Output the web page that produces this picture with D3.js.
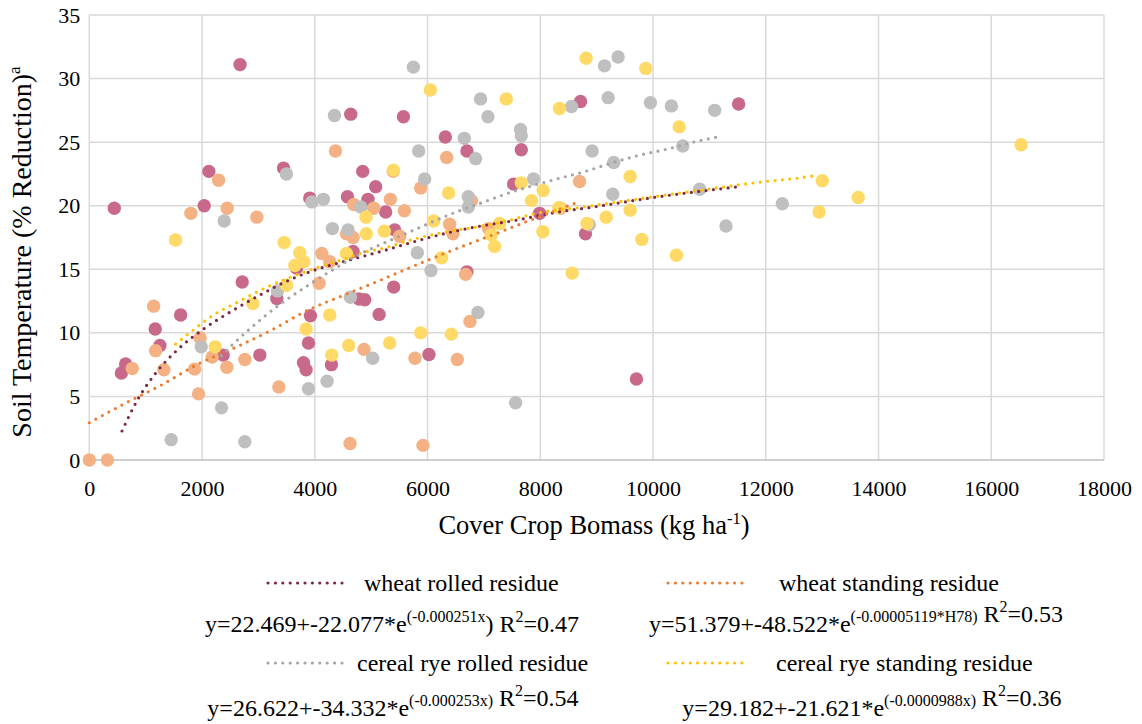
<!DOCTYPE html>
<html>
<head>
<meta charset="utf-8">
<script src="https://cdn.jsdelivr.net/npm/d3@7/dist/d3.min.js"></script>
<style>
  html, body { margin: 0; padding: 0; background: #fff; }
  svg { display: block; }
  text { font-family: "Liberation Serif", "Times New Roman", serif; fill: #000; }
</style>
</head>
<body>
<svg id="chart" width="1142" height="724"></svg>
<script>
// ---- data: cover crop biomass (kg/ha) vs soil temperature reduction (%) ----
const seriesNames = ["wheat rolled residue", "wheat standing residue", "cereal rye rolled residue", "cereal rye standing residue"];

const wheatRolledX = [443, 569, 645, 1170, 1253, 1620, 2038, 2121, 2375, 2674, 2712, 3025, 3326, 3445, 3675, 3799, 3846, 3888, 3911, 3923, 4295, 4579, 4638, 4680, 4785, 4850, 4886, 4944, 5080, 5141, 5258, 5400, 5417, 5572, 6025, 6316, 6699, 6699, 7526, 7663, 7987, 8714, 8802, 9706, 11519];
const wheatRolledY = [19.8, 6.84, 7.55, 10.3, 9.0, 11.4, 20.0, 22.7, 8.25, 31.1, 14.0, 8.25, 12.7, 22.96, 15.1, 7.65, 7.1, 9.2, 20.6, 11.35, 7.5, 20.7, 27.2, 16.4, 12.66, 22.7, 12.6, 20.5, 21.5, 11.45, 19.5, 13.6, 18.1, 27.0, 8.3, 25.4, 24.3, 14.8, 21.7, 24.4, 19.4, 28.2, 17.8, 6.37, 28.0];

const wheatStandingX = [0, 322, 762, 1141, 1176, 1324, 1802, 1868, 1938, 1967, 2180, 2293, 2440, 2446, 2759, 2972, 3362, 4076, 4124, 4266, 4367, 4562, 4625, 4680, 4691, 4873, 5045, 5341, 5390, 5506, 5589, 5777, 5878, 5919, 6339, 6392, 6450, 6528, 6676, 6752, 6782, 7083, 8359, 8696];
const wheatStandingY = [0, 0, 7.2, 12.1, 8.6, 7.1, 19.4, 7.15, 5.2, 9.6, 8.1, 22.0, 7.3, 19.8, 7.9, 19.1, 5.74, 13.9, 16.25, 15.6, 24.3, 17.8, 1.3, 17.5, 20.1, 8.7, 19.8, 20.5, 22.7, 17.6, 19.6, 8.0, 21.4, 1.15, 23.8, 18.55, 17.8, 7.9, 14.6, 10.9, 20.4, 18.2, 19.8, 21.9];

const ryeRolledX = [1453, 1985, 2346, 2393, 2759, 3338, 3497, 3888, 3947, 4153, 4218, 4313, 4349, 4590, 4632, 4815, 5027, 5749, 5819, 5843, 5949, 6061, 6652, 6723, 6723, 6853, 6894, 6941, 7071, 7562, 7650, 7663, 7880, 8554, 8870, 8920, 9139, 9204, 9286, 9303, 9381, 9954, 10326, 10527, 10828, 11094, 11295, 12293];
const ryeRolledY = [1.6, 8.9, 4.1, 18.8, 1.44, 13.3, 22.5, 5.6, 20.3, 20.5, 6.2, 18.2, 27.1, 18.1, 12.8, 19.9, 8.0, 30.9, 16.3, 24.3, 22.1, 14.9, 25.3, 20.7, 19.9, 23.7, 11.6, 28.4, 27.0, 4.5, 26.0, 25.5, 22.1, 27.8, 18.5, 24.3, 31.0, 28.5, 20.9, 23.4, 31.7, 28.1, 27.85, 24.7, 21.3, 27.5, 18.4, 20.15];

const ryeStandingX = [1531, 2233, 2901, 3456, 3498, 3645, 3734, 3805, 3846, 4266, 4301, 4561, 4602, 4909, 4915, 5235, 5329, 5394, 5878, 6050, 6108, 6250, 6374, 6422, 7131, 7190, 7278, 7397, 7663, 7845, 8046, 8052, 8330, 8341, 8566, 8814, 8830, 9169, 9594, 9594, 9800, 9871, 10414, 10463, 12944, 13003, 13640, 16529];
const ryeStandingY = [17.3, 8.9, 12.3, 17.1, 13.75, 15.3, 16.3, 15.6, 10.3, 11.4, 8.25, 16.25, 9.0, 19.1, 17.8, 18.0, 9.2, 22.8, 10.0, 29.1, 18.8, 15.9, 21.0, 9.9, 17.7, 16.8, 18.6, 28.4, 21.8, 20.4, 17.95, 21.2, 19.85, 27.65, 14.7, 31.6, 18.6, 19.1, 22.3, 19.65, 17.35, 30.8, 16.1, 26.2, 19.5, 21.96, 20.65, 24.8];

// fitted trend curves, sampled along x
const wheatRolledFitX = [580, 840, 1164, 1559, 2020, 2506, 3025, 3544, 4088, 4501, 5210, 6038, 6865, 7485, 8341, 8772, 10172, 11501];
const wheatRolledFitY = [2.28, 4.61, 6.76, 8.65, 10.28, 11.66, 12.97, 14.15, 15.07, 15.59, 16.45, 17.51, 18.34, 18.79, 19.52, 19.79, 20.75, 21.49];

const wheatStandingFitX = [0, 638, 1288, 1932, 2582, 3232, 3881, 4561, 5081, 5447, 6038, 6569, 7101, 7780, 8607];
const wheatStandingFitY = [2.93, 4.46, 5.92, 7.55, 8.83, 10.22, 11.79, 13.05, 13.99, 14.68, 15.78, 16.72, 17.61, 18.79, 20.18];

const ryeRolledFitX = [2346, 2552, 2878, 3101, 3338, 3574, 3817, 4058, 4313, 4797, 5081, 5890, 6410, 6959, 7367, 8212, 8754, 9316, 9888, 10172, 10734, 11165];
const ryeRolledFitY = [8.2, 9.12, 10.43, 11.27, 12.1, 12.84, 13.55, 14.25, 14.94, 16.2, 16.77, 18.34, 19.34, 20.23, 20.89, 22.01, 22.64, 23.43, 24.11, 24.37, 25.02, 25.42];

const ryeStandingFitX = [1531, 1873, 2228, 2612, 2995, 3410, 4088, 4502, 4916, 5210, 5742, 6334, 6893, 7337, 7928, 8772, 10202, 10764, 11354, 11944, 12536, 12820];
const ryeStandingFitY = [9.12, 10.32, 11.48, 12.37, 13.26, 14.1, 15.2, 15.78, 16.38, 16.64, 17.35, 17.95, 18.34, 18.74, 19.39, 19.91, 20.83, 21.17, 21.54, 21.88, 22.15, 22.33];

const xTicks = [0, 2000, 4000, 6000, 8000, 10000, 12000, 14000, 16000, 18000];
const yTicks = [0, 5, 10, 15, 20, 25, 30, 35];

// ---- layout ----
const svg = d3.select("#chart");
const plot = { left: 89.3, right: 1104, top: 15, bottom: 460 };

const x = d3.scaleLinear().domain([0, 18000]).range([plot.left, plot.right]);
const y = d3.scaleLinear().domain([0, 35]).range([plot.bottom, plot.top]);

const pointColors = ["#C8698C", "#F4B183", "#BFBFBF", "#FFD966"];
const lineColors = ["#7B2947", "#ED7D31", "#A5A5A5", "#FFC000"];
const serif = "Liberation Serif";

// gridlines
const grid = svg.append("g");
grid.selectAll("line.v").data(xTicks).join("line")
  .attr("x1", d => x(d)).attr("x2", d => x(d))
  .attr("y1", plot.top).attr("y2", plot.bottom)
  .attr("stroke", "#D9D9D9").attr("stroke-width", 1.5);
grid.selectAll("line.h").data(yTicks).join("line")
  .attr("x1", plot.left).attr("x2", plot.right)
  .attr("y1", d => y(d)).attr("y2", d => y(d))
  .attr("stroke", d => d === 0 ? "#BFBFBF" : "#D9D9D9").attr("stroke-width", 1.5);

// tick labels
const xAxis = d3.axisBottom(x).tickValues(xTicks).tickSize(0).tickPadding(20).tickFormat(d3.format("d"));
const gx = svg.append("g").attr("transform", `translate(0,${plot.bottom})`).call(xAxis);
gx.select(".domain").remove();
gx.attr("font-family", serif).attr("font-size", 22);
gx.selectAll("text").style("font-family", serif).style("font-size", "22px");

const yAxis = d3.axisLeft(y).tickValues(yTicks).tickSize(0).tickPadding(9).tickFormat(d3.format("d"));
const gy = svg.append("g").attr("transform", `translate(${plot.left},0)`).call(yAxis);
gy.select(".domain").remove();
gy.attr("font-family", serif).attr("font-size", 22);
gy.selectAll("text").style("font-family", serif).style("font-size", "22px");

// scatter points
const series = [
  { xs: wheatRolledX, ys: wheatRolledY },
  { xs: wheatStandingX, ys: wheatStandingY },
  { xs: ryeRolledX, ys: ryeRolledY },
  { xs: ryeStandingX, ys: ryeStandingY }
];
series.forEach((s, i) => {
  const pts = s.xs.map((v, j) => [v, s.ys[j]]);
  svg.append("g").selectAll("circle").data(pts).join("circle")
    .attr("cx", d => x(d[0])).attr("cy", d => y(d[1])).attr("r", 6.7)
    .attr("fill", pointColors[i]);
});

// trend curves (round dotted)
const fits = [
  { xs: wheatRolledFitX, ys: wheatRolledFitY },
  { xs: wheatStandingFitX, ys: wheatStandingFitY },
  { xs: ryeRolledFitX, ys: ryeRolledFitY },
  { xs: ryeStandingFitX, ys: ryeStandingFitY }
];
const line = d3.line().x(d => x(d[0])).y(d => y(d[1])).curve(d3.curveMonotoneX);
fits.forEach((f, i) => {
  const pts = f.xs.map((v, j) => [v, f.ys[j]]);
  svg.append("path").datum(pts).attr("d", line)
    .attr("fill", "none").attr("stroke", lineColors[i])
    .attr("stroke-width", 3.2).attr("stroke-linecap", "round")
    .attr("stroke-dasharray", "0 7.4");
});

// axis titles
svg.append("text")
  .attr("x", 594).attr("y", 534).attr("text-anchor", "middle").attr("font-size", 26.5)
  .call(t => {
    t.append("tspan").text("Cover Crop Bomass (kg ha");
    t.append("tspan").attr("font-size", 16.5).attr("dy", -10).text("-1");
    t.append("tspan").attr("dy", 10).text(")");
  });

svg.append("text")
  .attr("transform", "translate(31,252) rotate(-90)")
  .attr("text-anchor", "middle").attr("font-size", 28)
  .call(t => {
    t.append("tspan").text("Soil Temperature (% Reduction)");
    t.append("tspan").attr("font-size", 17).attr("dy", -11).text("a");
  });

// legend
const legendItems = [
  { name: seriesNames[0], lx: 268, ly: 583, tx: 364, eqX: 392, eqY: 632, a: "22.469", b: "22.077", k: "-0.000251x", r2: "0.47", closeOutside: true },
  { name: seriesNames[1], lx: 668, ly: 583, tx: 779, eqX: 856, eqY: 632, a: "51.379", b: "48.522", k: "-0.00005119*H78", r2: "0.53", closeOutside: false },
  { name: seriesNames[2], lx: 268, ly: 663, tx: 357, eqX: 393, eqY: 716, a: "26.622", b: "34.332", k: "-0.000253x", r2: "0.54", closeOutside: false },
  { name: seriesNames[3], lx: 668, ly: 663, tx: 776, eqX: 872, eqY: 716, a: "29.182", b: "21.621", k: "-0.0000988x", r2: "0.36", closeOutside: false }
];
const lg = svg.append("g");
legendItems.forEach((it, i) => {
  lg.append("line")
    .attr("x1", it.lx).attr("x2", it.lx + 77).attr("y1", it.ly).attr("y2", it.ly)
    .attr("stroke", lineColors[i]).attr("stroke-width", 3.2)
    .attr("stroke-linecap", "round").attr("stroke-dasharray", "0 7.4");
  lg.append("text").attr("x", it.tx).attr("y", it.ly + 8).attr("font-size", 24).text(it.name);
  const eq = lg.append("text").attr("x", it.eqX).attr("y", it.eqY)
    .attr("text-anchor", "middle").attr("font-size", 24);
  eq.append("tspan").text(`y=${it.a}+-${it.b}*e`);
  if (it.closeOutside) {
    eq.append("tspan").attr("font-size", 16).attr("dy", -10).text(`(${it.k}`);
    eq.append("tspan").attr("dy", 10).text(")");
  } else {
    eq.append("tspan").attr("font-size", 16).attr("dy", -10).text(`(${it.k})`);
    eq.append("tspan").attr("dy", 10).text("");
  }
  eq.append("tspan").text(" R");
  eq.append("tspan").attr("font-size", 16).attr("dy", -10).text("2");
  eq.append("tspan").attr("dy", 10).text(`=${it.r2}`);
});
</script>
</body>
</html>
